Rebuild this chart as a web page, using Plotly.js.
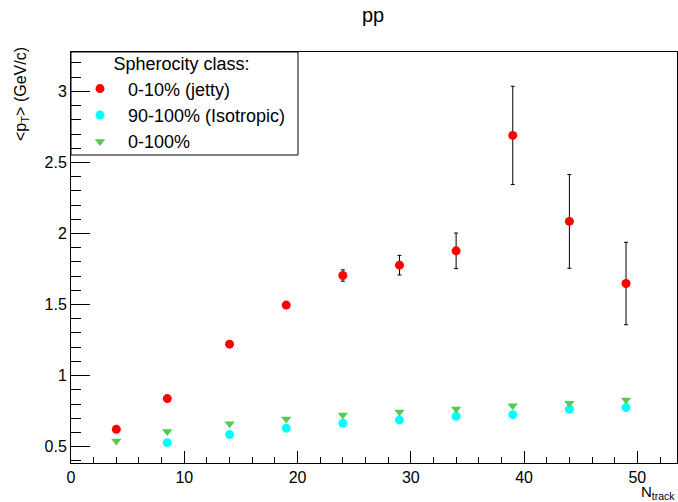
<!DOCTYPE html>
<html>
<head>
<meta charset="utf-8">
<script src="https://cdn.plot.ly/plotly-3.0.1.min.js"></script>
<style>html,body{margin:0;padding:0;background:#fff;}#chart{width:678px;height:502px;}</style>
</head>
<body>
<div id="chart"></div>
<script>
// Data
const nTrack = [4, 8.5, 14, 19, 24, 29, 34, 39, 44, 49];
const jettyPt = [0.622, 0.838, 1.221, 1.496, 1.704, 1.777, 1.878, 2.690, 2.085, 1.648];
const jettyErr = [0.0, 0.0, 0.0, 0.0, 0.04, 0.069, 0.125, 0.346, 0.33, 0.29];
const isoTrack = [8.5, 14, 19, 24, 29, 34, 39, 44, 49];
const isoPt = [0.528, 0.585, 0.630, 0.665, 0.688, 0.714, 0.725, 0.763, 0.775];
const allPt = [0.540, 0.606, 0.662, 0.695, 0.723, 0.744, 0.765, 0.787, 0.806, 0.829];
const seriesNames = ['0-10% (jetty)', '90-100% (Isotropic)', '0-100%'];
const yTickVals = [0.5, 1, 1.5, 2, 2.5, 3];
const yTickText = ['0.5', '1', '1.5', '2', '2.5', '3'];
const xTickVals = [0, 10, 20, 30, 40, 50];

const font = 'Liberation Sans, Arial, Helvetica, sans-serif';

const traces = [
  {
    x: nTrack, y: jettyPt, name: seriesNames[0], type: 'scatter', mode: 'markers',
    marker: {color: '#ff0000', size: 9, symbol: 'circle'},
    error_y: {type: 'data', array: jettyErr, visible: true, color: '#000000', thickness: 1, width: 2}
  },
  {
    x: isoTrack, y: isoPt, name: seriesNames[1], type: 'scatter', mode: 'markers',
    marker: {color: '#00ffff', size: 9, symbol: 'circle'}
  },
  {
    x: nTrack, y: allPt, name: seriesNames[2], type: 'scatter', mode: 'markers',
    marker: {color: '#55cc4f', size: 9, symbol: 'triangle-down'}
  }
];

const L = 71, R = 1, T = 52, B = 39;
const W = 678 - L - R, H = 502 - T - B;
function px(xp) { return (xp - L) / W; }
function py(yp) { return (502 - B - yp) / H; }

const layout = {
  width: 678, height: 502,
  margin: {l: L, r: R, t: T, b: B, pad: 0},
  paper_bgcolor: '#ffffff', plot_bgcolor: '#ffffff',
  font: {family: font, size: 16, color: '#000000'},
  title: {text: 'pp', font: {family: font, size: 20, color: '#000'}, x: 373/678, xref: 'container', xanchor: 'center', y: 1 - 15/502, yref: 'container', yanchor: 'middle'},
  showlegend: true,
  legend: {
    x: px(72), y: py(47), xanchor: 'left', yanchor: 'top',
    bgcolor: 'rgba(255,255,255,0)', borderwidth: 0,
    font: {family: font, size: 18, color: '#000'},
    title: {text: 'Spherocity class:', side: 'top center', font: {family: font, size: 18, color: '#000'}},
    itemwidth: 46, tracegroupgap: 0
  },
  xaxis: {
    range: [0, 53.5], showgrid: false, zeroline: false,
    showline: true, linecolor: '#000', linewidth: 1, mirror: true,
    ticks: 'inside', ticklen: 12, tickcolor: '#000', tickwidth: 1,
    tickvals: xTickVals,
    tickfont: {family: font, size: 16, color: '#000'},
    minor: {dtick: 2, tick0: 0, ticks: 'inside', ticklen: 6, tickcolor: '#000', tickwidth: 1, showgrid: false}
  },
  yaxis: {
    range: [0.385, 3.277], showgrid: false, zeroline: false,
    showline: true, linecolor: '#000', linewidth: 1, mirror: true,
    ticks: 'inside', ticklen: 19, tickcolor: '#000', tickwidth: 1,
    tickvals: yTickVals, ticktext: yTickText,
    tickfont: {family: font, size: 16, color: '#000'},
    minor: {dtick: 0.1, tick0: 0, ticks: 'inside', ticklen: 10, tickcolor: '#000', tickwidth: 1, showgrid: false}
  },
  shapes: [
    {type: 'rect', xref: 'paper', yref: 'paper', x0: 0, x1: px(298), y0: py(155), y1: 1,
     line: {color: '#000', width: 1}, fillcolor: 'rgba(0,0,0,0)', layer: 'above'}
  ],
  annotations: [
    {text: '<p<sub>T</sub>> (GeV/c)', xref: 'paper', yref: 'paper', x: px(21), y: py(94),
     xanchor: 'center', yanchor: 'middle', textangle: -90, showarrow: false,
     font: {family: font, size: 16, color: '#000'}},
    {text: 'N<sub>track</sub>', xref: 'paper', yref: 'paper', x: px(677), y: py(492),
     xanchor: 'right', yanchor: 'middle', showarrow: false,
     font: {family: font, size: 15, color: '#000'}}
  ]
};

Plotly.newPlot('chart', traces, layout, {displayModeBar: false, staticPlot: true});
</script>
</body>
</html>
